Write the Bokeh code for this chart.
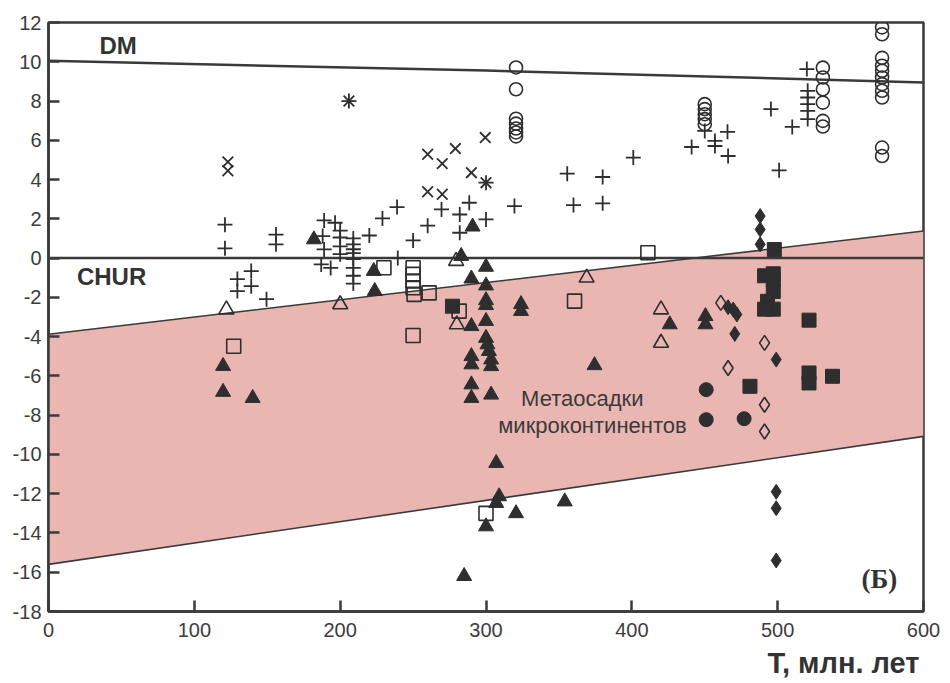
from bokeh.plotting import figure
from bokeh.models import Range1d, Label, Title, FixedTicker
from bokeh.embed import file_html
from bokeh.resources import INLINE

# --- axes ---
x_ticks = [0, 100, 200, 300, 400, 500, 600]
y_ticks = list(range(-18, 13, 2))

# --- reference evolution lines (T, eNd) ---
dm_t = [0, 300, 600]
dm_e = [10.05, 9.55, 8.95]
chur_t = [0, 600]
chur_e = [0, 0]

# --- field of microcontinent metasediments: upper and lower edges ---
band_t = [0, 600]
band_top = [-3.88, 1.38]
band_bot = [-15.6, -9.08]

# --- samples ---
plus_t = [121, 121, 156, 156, 129.5, 129.5, 139, 139, 149.5,
          189, 196.5, 188, 189, 200, 200, 200, 200, 187, 193.5,
          209, 209, 209, 209, 209, 209, 209, 209,
          220, 229, 239, 239.5, 250, 260, 269.5, 282, 282, 288.5, 300, 319.5,
          355.7, 360, 380, 380,
          401, 441, 450, 457, 457, 465.6, 466, 495.4, 501, 510,
          520, 520.6, 520.6, 520.6, 520.6, 520.6,
          206, 300]
plus_e = [1.7, 0.5, 1.2, 0.7, -1.07, -1.68, -0.66, -1.43, -2.09,
          1.92, 1.8, 1.12, 0.44, 1.4, 1.05, 0.6, 0.2, -0.32, -0.5,
          1.0, 0.7, 0.45, 0.25, -0.05, -0.5, -0.9, -1.3,
          1.15, 2.02, 2.6, 0.0, 0.9, 1.65, 2.48, 2.22, 1.29, 2.82, 1.97, 2.65,
          4.3, 2.7, 4.13, 2.79,
          5.12, 5.66, 6.48, 5.97, 5.71, 6.43, 5.2, 7.59, 4.47, 6.68,
          9.63, 8.52, 8.18, 7.84, 7.5, 7.08,
          8.0, 3.84]

xmark_t = [123, 123, 206, 260, 270, 279, 299.5, 290, 300, 260, 270]
xmark_e = [4.9, 4.45, 8.0, 5.29, 4.81, 5.58, 6.14, 4.35, 3.84, 3.38, 3.25]

ocirc_t = [320.6] * 7 + [450] * 5 + [531] * 6 + [571.6] * 11
ocirc_e = [9.71, 8.6, 7.1, 6.85, 6.6, 6.4, 6.2,
           7.84, 7.59, 7.33, 7.08, 6.82,
           9.7, 9.2, 8.6, 7.92, 6.99, 6.7,
           11.75, 11.4, 10.2, 9.8, 9.54, 9.2, 8.86, 8.52, 8.18, 5.63, 5.2]

ftri_t = [119.7, 119.7, 140, 182, 223, 223.7, 290.8, 283, 300, 290, 300, 300, 300,
          324, 324, 290, 300, 300, 301, 302, 303.5, 303.5, 290, 290, 290, 290,
          303.5, 307, 309, 307, 300, 320.6, 285, 354, 374.4, 426, 450.5, 450.5]
ftri_e = [-5.5, -6.82, -7.13, 0.95, -0.66, -1.68, 1.6, 0.1, -0.45, -1.05, -1.4, -2.15, -2.4,
          -2.35, -2.7, -3.47, -3.21, -4.07, -4.4, -4.74, -5.17, -5.51, -5.0, -5.42, -6.44, -7.13,
          -6.96, -10.44, -12.14, -12.48, -13.67, -13.0, -16.2, -12.4, -5.46, -3.38, -2.96, -3.38]

otri_t = [122, 200, 279.5, 369, 280, 420, 420]
otri_e = [-2.62, -2.36, -0.15, -1.0, -3.38, -2.62, -4.32]

osq_t = [127, 230, 250, 250, 250, 250, 250.7, 261, 250, 281.6, 360.7, 411, 300]
osq_e = [-4.49, -0.49, -0.49, -0.83, -1.17, -1.51, -1.85, -1.77, -3.94, -2.7, -2.19, 0.27, -13.0]

fsq_t = [277, 497.7, 491, 497, 497, 497, 493, 497, 491, 521.5, 521.5, 521.5, 537.6, 481]
fsq_e = [-2.45, 0.44, -0.9, -0.8, -1.1, -1.7, -2.2, -2.6, -2.6, -3.16, -5.85, -6.36, -6.02, -6.53]

fcirc_t = [451, 451, 477]
fcirc_e = [-6.7, -8.23, -8.18]

fdia_t = [488, 488, 488, 466, 469.5, 472, 470.6, 499, 499, 499, 499]
fdia_e = [2.14, 1.46, 0.7, -2.5, -2.62, -2.87, -3.86, -5.17, -11.9, -12.74, -15.4]

odia_t = [461, 466, 491, 491, 491]
odia_e = [-2.28, -5.6, -4.32, -7.47, -8.83]

INK = "#2e2e2e"
LINE = "#3a3a3a"
PINK = "#e9b6b2"
FONT = "Liberation Sans"

p = figure(width=950, height=683, output_backend="svg", toolbar_location=None,
           x_range=Range1d(0, 600), y_range=Range1d(-18, 12),
           min_border_left=48, min_border_right=27, min_border_top=22,
           min_border_bottom=72, background_fill_color="white",
           border_fill_color="white")
p.grid.visible = False
p.outline_line_color = LINE
p.outline_line_width = 2.5

for ax in (p.xaxis[0], p.yaxis[0]):
    ax.axis_line_color = LINE
    ax.axis_line_width = 2.5
    ax.major_tick_line_color = LINE
    ax.major_tick_line_width = 2.5
    ax.major_tick_in = 11
    ax.major_tick_out = 0
    ax.minor_tick_line_color = None
    ax.major_label_text_font = FONT
    ax.major_label_text_font_size = "20px"
    ax.major_label_text_color = "#3c3c3c"
p.xaxis.ticker = FixedTicker(ticks=x_ticks)
p.yaxis.ticker = FixedTicker(ticks=y_ticks)
# plain hyphen for negative values
p.yaxis.major_label_overrides = {v: str(v) for v in y_ticks}
p.xaxis.major_label_overrides = {v: str(v) for v in x_ticks}
p.xaxis.major_label_standoff = 11
p.yaxis.major_label_standoff = 7

# shaded field
p.varea(x=band_t, y1=band_bot, y2=band_top, fill_color=PINK, fill_alpha=1.0)
p.line(band_t, band_top, line_color=LINE, line_width=1.6)
p.line(band_t, band_bot, line_color=LINE, line_width=1.6)

# DM and CHUR
p.line(dm_t, dm_e, line_color=LINE, line_width=2.5)
p.line(chur_t, chur_e, line_color=LINE, line_width=2.5)

# samples
p.scatter(plus_t, plus_e, marker="cross", size=15, line_color=INK, line_width=1.8)
p.scatter(xmark_t, xmark_e, marker="x", size=15, line_color=INK, line_width=1.8)
p.scatter(ocirc_t, ocirc_e, marker="circle", size=13, line_color=INK,
          line_width=1.6, fill_alpha=0)
p.scatter(otri_t, otri_e, marker="triangle", size=15, line_color=INK,
          line_width=1.6, fill_alpha=0)
p.scatter(osq_t, osq_e, marker="square", size=14, line_color=INK,
          line_width=1.6, fill_alpha=0)
p.scatter(odia_t, odia_e, marker="diamond", size=15, line_color=INK,
          line_width=1.6, fill_alpha=0)
p.scatter(ftri_t, ftri_e, marker="triangle", size=15, line_color=INK, fill_color=INK)
p.scatter(fsq_t, fsq_e, marker="square", size=14, line_color=INK, fill_color=INK)
p.scatter(fcirc_t, fcirc_e, marker="circle", size=14, line_color=INK, fill_color=INK)
p.scatter(fdia_t, fdia_e, marker="diamond", size=15, line_color=INK, fill_color=INK)

# annotations
p.add_layout(Label(x=35, y=10.85, text="DM", text_font=FONT, text_font_style="bold",
                   text_font_size="24px", text_color="#333333",
                   text_baseline="middle", text_align="left"))
p.add_layout(Label(x=19.5, y=-0.95, text="CHUR", text_font=FONT, text_font_style="bold",
                   text_font_size="24px", text_color="#333333",
                   text_baseline="middle", text_align="left"))
p.add_layout(Label(x=366, y=-7.15, text="Метаосадки", text_font=FONT,
                   text_font_size="22px", text_color="#3a3a3a",
                   text_baseline="middle", text_align="center"))
p.add_layout(Label(x=373, y=-8.55, text="микроконтинентов", text_font=FONT,
                   text_font_size="22px", text_color="#3a3a3a",
                   text_baseline="middle", text_align="center"))
p.add_layout(Label(x=582, y=-16.35, text="(Б)", text_font="Liberation Serif",
                   text_font_style="bold", text_font_size="27px", text_color="#333333",
                   text_baseline="middle", text_align="right"))

p.add_layout(Title(text="T, млн. лет", align="right", text_font=FONT,
                   text_font_style="bold", text_font_size="29px",
                   text_color="#333333", offset=4), "below")

open("out.html", "w").write(file_html(p, INLINE))
